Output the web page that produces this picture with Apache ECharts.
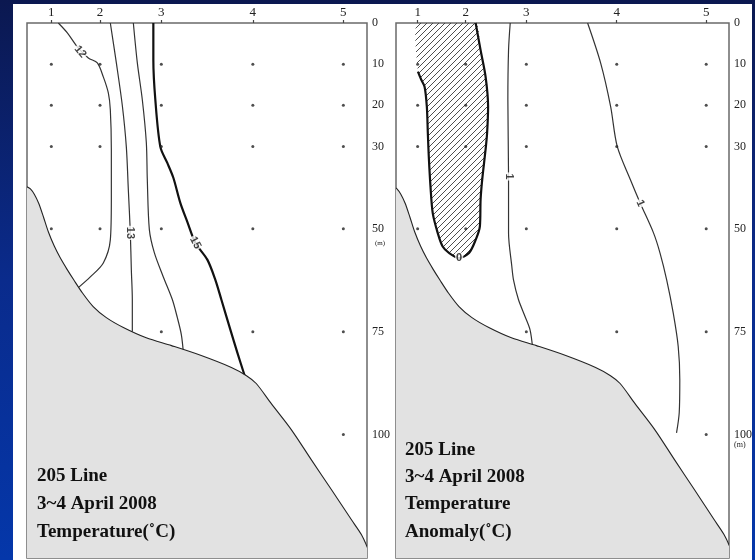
<!DOCTYPE html>
<html><head><meta charset="utf-8">
<script src="https://cdn.jsdelivr.net/npm/echarts@6/dist/echarts.min.js"></script>
<style>html,body{margin:0;padding:0;background:#0a2a8a}#c{width:755px;height:560px}</style>
</head><body><div id="c"></div>
<script>
// ---- data ----
const stationKm = [0, 10, 22.6, 41.4, 60];
const stationNames = ['1', '2', '3', '4', '5'];
const depthTicks = [0, 10, 20, 30, 50, 75, 100];
const sampleDepths = [10, 20, 30, 50, 75, 100];
const stationMaxDepth = [50, 50, 75, 75, 100];

// bathymetry [km, depth m]
const seafloor = [[-5, 39.8], [-4.3, 40.3], [-3.5, 41.6], [-2.6, 43.8], [-1.6, 47.2], [-0.6, 50.8], [0.6, 54.2], [1.8, 57.0], [3.2, 59.8], [4.6, 62.4], [6.4, 65.6], [8.6, 68.9], [11.3, 71.6], [14.8, 74.0], [19.5, 76.5], [24.7, 78.4], [30.8, 80.8], [37.0, 83.7], [40.1, 85.7], [42.1, 87.6], [45.2, 92.5], [49.3, 98.8], [53.4, 106.1], [57.5, 113.3], [61.6, 120.6], [63.7, 124.3], [65, 127.6]];

// temperature contours
const temp12 = [[1.44, 0], [3.29, 2.4], [5.34, 5.8], [7.6, 8.5], [9.45, 9.7], [10.68, 13.1], [11.71, 17.0], [12.12, 21.1], [12.33, 30.8], [12.33, 43.0], [12.12, 52.7], [10.68, 58.3], [8.01, 61.7], [5.55, 64.3]];
const temp13 = [[12.12, 0], [13.36, 9.7], [14.59, 20.1], [15.41, 30.1], [15.82, 40.5], [16.23, 51.0], [16.44, 60.0], [16.64, 67.2], [16.64, 75.7]];
const temp14 = [[16.85, 0], [17.67, 9.7], [18.7, 18.7], [19.52, 29.1], [19.72, 38.1], [20.14, 50.2], [21.16, 55.8], [23.01, 61.7], [24.86, 67.2], [25.89, 71.6], [26.71, 75.7], [27.12, 79.9]];
const temp15 = [[20.96, 0], [20.96, 9.0], [21.37, 18.7], [22.4, 30.1], [23.83, 34.0], [25.07, 37.6], [26.5, 43.7], [27.94, 48.3], [29.59, 53.4], [32.05, 57.5], [33.7, 62.4], [34.93, 67.2], [36.78, 74.5], [38.22, 80.1], [39.86, 86.2]];
const tempLabels = [{text: '12', at: [5.96, 7.0], angle: -50}, {text: '13', at: [16.23, 51.0], angle: -90}, {text: '15', at: [29.59, 53.4], angle: -62}];

// anomaly contours
const anom0 = [[12.06, 0], [13.09, 6.6], [14.12, 13.0], [14.65, 20.3], [14.44, 26.8], [14.12, 30.8], [13.42, 38.1], [13.09, 42.9], [12.94, 49.4], [12.06, 52.7], [10.68, 55.9], [8.63, 57.1], [6.57, 55.9], [5.2, 54.3], [4.17, 51.0], [3.14, 46.2], [2.67, 39.7], [2.32, 32.5], [2.12, 26.8], [1.91, 20.3], [1.44, 15.5], [0.76, 13.8], [0.06, 11.8]];
const anom1a = [[19.25, 0], [18.9, 6.6], [18.76, 18.7], [18.9, 37.3], [18.9, 51.0], [19.58, 59.1], [19.93, 62.4], [20.96, 67.2], [22.33, 71.3], [23.36, 74.5], [23.9, 78.8]];
const anom1b = [[35.34, 0], [38.07, 9.8], [40.13, 20.3], [41.5, 30.0], [44.24, 38.1], [46.29, 43.8], [49.04, 51.0], [50.4, 55.9], [51.78, 62.4], [53.15, 70.5], [54.18, 78.6], [54.51, 86.7], [54.39, 94.7], [53.83, 99.6]];
const anomLabels = [{text: '0', at: [8.63, 57.1], angle: 0}, {text: '1', at: [18.9, 37.3], angle: -90}, {text: '1', at: [46.29, 43.8], angle: -66}];

const leftTitle = '205 Line\n3~4 April 2008\nTemperature(˚C)';
const rightTitle = '205 Line\n3~4 April 2008\nTemperature\nAnomaly(˚C)';

// ---- chart ----
const chart = echarts.init(document.getElementById('c'), null, {renderer: 'canvas'});

const serif = 'Liberation Serif';
const samplePts = [];
stationKm.forEach((x, i) => sampleDepths.forEach(d => { if (d <= stationMaxDepth[i]) samplePts.push([x, d]); }));

// hatch pattern
const pc = document.createElement('canvas');
pc.width = 6; pc.height = 6;
const pctx = pc.getContext('2d');
pctx.strokeStyle = '#3a3a3a'; pctx.lineWidth = 0.9;
pctx.beginPath();
pctx.moveTo(-1, 7); pctx.lineTo(7, -1);
pctx.moveTo(-1, 1); pctx.lineTo(1, -1);
pctx.moveTo(5, 7); pctx.lineTo(7, 5);
pctx.stroke();

function xAxisFor(g, min, max) {
  return {
    gridIndex: g, type: 'value', position: 'top', min: min, max: max,
    axisLine: {show: false}, splitLine: {show: false},
    axisTick: {show: true, customValues: stationKm, length: 3, lineStyle: {color: '#444', width: 1.2}},
    axisLabel: {customValues: stationKm, margin: 4, fontFamily: serif, fontSize: 13, color: '#222',
      formatter: v => { const i = stationKm.findIndex(s => Math.abs(s - v) < 1e-6); return i >= 0 ? stationNames[i] : ''; }}
  };
}
function yAxisFor(g, custom, fmt, size, margin) {
  return {
    gridIndex: g, type: 'value', inverse: true, min: 0, max: 130, position: 'right',
    axisLine: {show: false}, axisTick: {show: false}, splitLine: {show: false},
    axisLabel: {customValues: custom, margin: margin, fontFamily: serif, fontSize: size, color: '#222', formatter: fmt}
  };
}
function lineS(xi, data, bold) {
  return {type: 'line', xAxisIndex: xi, yAxisIndex: xi * 2, data: data, showSymbol: false, smooth: 0.3,
    silent: true, z: 3, lineStyle: {color: bold ? '#111' : '#333', width: bold ? 2.2 : 1.2}};
}
function labelS(xi, labels) {
  return {type: 'scatter', xAxisIndex: xi, yAxisIndex: xi * 2, symbolSize: 1, z: 7, silent: true,
    itemStyle: {color: 'rgba(0,0,0,0)'},
    data: labels.map(l => ({value: l.at, label: {show: true, formatter: l.text, rotate: l.angle}})),
    label: {show: true, position: 'inside', color: '#111', fontFamily: 'Liberation Sans', fontWeight: 'bold', fontSize: 11,
      backgroundColor: '#fff', padding: [0, 1]}};
}
function floorS(xi) {
  return {type: 'custom', xAxisIndex: xi, yAxisIndex: xi * 2, clip: true, z: 5, silent: true, data: [[0, 0]],
    renderItem: (params, api) => {
      const pts = seafloor.map(p => api.coord(p));
      const cs = params.coordSys;
      const f = pts[0], l = pts[pts.length - 1];
      const b = cs.y + cs.height + 10;
      const poly = [[cs.x - 10, f[1]]].concat(pts, [[cs.x + cs.width + 10, l[1]], [cs.x + cs.width + 10, b], [cs.x - 10, b]]);
      return {type: 'group', children: [
        {type: 'polygon', shape: {points: poly}, style: {fill: '#e2e2e2'}},
        {type: 'polyline', shape: {points: pts, smooth: 0.3}, style: {stroke: '#222', lineWidth: 1.1, fill: null}}
      ]};
    }};
}

const option = {
  animation: false,
  backgroundColor: {type: 'linear', x: 0, y: 0, x2: 0, y2: 1,
    colorStops: [{offset: 0, color: '#0b1850'}, {offset: 0.5, color: '#0a2b8c'}, {offset: 1, color: '#0437aa'}]},
  graphic: [{type: 'rect', z: -1, shape: {x: 13, y: 4, width: 739, height: 560}, style: {fill: '#ffffff'}}],
  title: [
    {text: leftTitle, left: 37, top: 462, padding: 0,
      textStyle: {fontFamily: serif, fontWeight: 'bold', fontSize: 19, lineHeight: 28, color: '#111'}},
    {text: rightTitle, left: 405, top: 436, padding: 0,
      textStyle: {fontFamily: serif, fontWeight: 'bold', fontSize: 19, lineHeight: 27.4, color: '#111'}}
  ],
  grid: [
    {left: 27, top: 23, width: 340, height: 535, show: true, borderColor: '#6a6a6a', borderWidth: 1.5, backgroundColor: 'transparent'},
    {left: 396, top: 23, width: 337, height: 535, show: true, borderColor: '#6a6a6a', borderWidth: 1.5, backgroundColor: 'transparent'}
  ],
  xAxis: [xAxisFor(0, -5, 64.86), xAxisFor(1, -4.5, 64.74)],
  yAxis: [
    yAxisFor(0, depthTicks, null, 12, 5),
    yAxisFor(0, [53.5], () => '(m)', 7, 8),
    yAxisFor(1, depthTicks, null, 12, 5),
    yAxisFor(1, [102.5], () => '(m)', 8, 5)
  ],
  series: [
    lineS(0, temp12, false), lineS(0, temp13, false), lineS(0, temp14, false), lineS(0, temp15, true),
    labelS(0, tempLabels),
    floorS(0),
    {type: 'scatter', xAxisIndex: 0, yAxisIndex: 0, data: samplePts, symbolSize: 3, z: 6, silent: true, itemStyle: {color: '#222'}},
    // right panel
    {type: 'custom', xAxisIndex: 1, yAxisIndex: 2, clip: true, z: 2, silent: true, data: [[0, 0]],
      renderItem: (params, api) => {
        const pts = anom0.concat([[stationKm[0], 0]]).map(p => api.coord(p));
        return {type: 'polygon', shape: {points: pts, smooth: 0.2}, style: {fill: {image: pc, repeat: 'repeat'}}};
      }},
    lineS(1, anom0, true), lineS(1, anom1a, false), lineS(1, anom1b, false),
    labelS(1, anomLabels),
    floorS(1),
    {type: 'scatter', xAxisIndex: 1, yAxisIndex: 2, data: samplePts, symbolSize: 3, z: 6, silent: true, itemStyle: {color: '#222'}}
  ]
};
chart.setOption(option);
</script></body></html>
